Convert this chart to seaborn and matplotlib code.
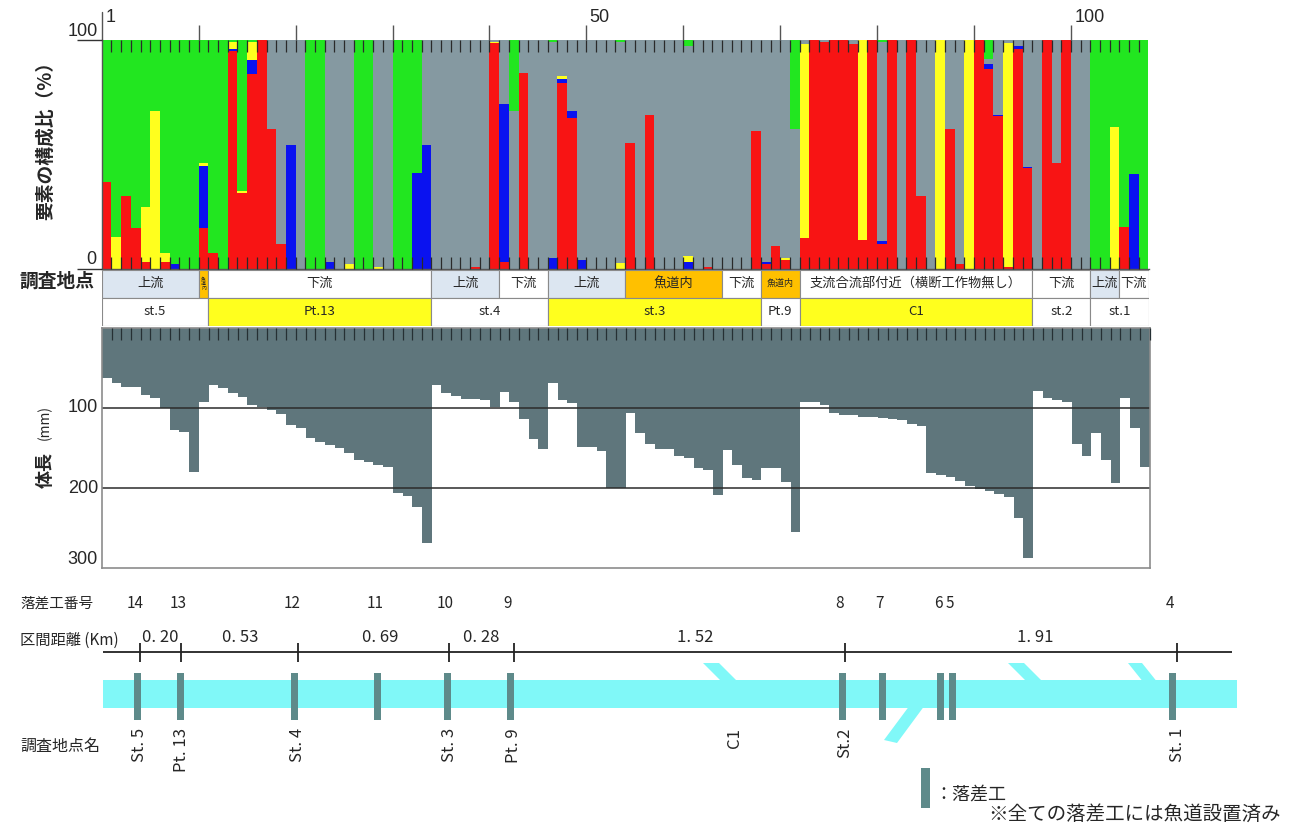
import numpy as np
import pandas as pd
import matplotlib
matplotlib.use("Agg")
import matplotlib.pyplot as plt
import seaborn as sns

# ================= data =================
# composition (%) of each individual, stacked bottom -> top: red, blue, yellow, gray, green
red = [
    38, 0, 32, 18, 3, 0, 3, 0, 0, 0,
    18, 7, 0, 95, 33, 85, 100, 61, 11, 0,
    0, 0, 0, 0, 0, 0, 0, 0, 0, 0,
    0, 0, 0, 0, 0, 0, 0, 0, 1, 0,
    98.5, 3, 0, 85.5, 0, 0, 0, 81, 66, 0,
    0, 0, 0, 0, 55, 0, 67, 0, 0, 0,
    0, 0, 1, 0, 0, 0, 0, 60, 2, 10,
    4, 0, 13.5, 100, 99, 100, 100, 98, 12.5, 100,
    11, 100, 0, 100, 32, 0, 0, 61, 2, 0,
    100, 87, 66.5, 1, 96, 44, 0, 100, 46, 100,
    0, 0, 0, 0, 0, 18.5, 0, 0]
blue = [
    0, 0, 0, 0, 0, 0, 0, 2, 0, 0,
    27, 0, 0, 1, 0, 6, 0, 0, 0, 54,
    0, 0, 0, 3, 0, 0, 0, 0, 0, 0,
    0, 0, 42, 54, 0, 0, 0, 0, 0, 0,
    0, 69, 0, 0, 0, 0, 5, 2, 3, 4,
    0, 0, 0, 0, 0, 0, 0, 0, 0, 0,
    3, 0, 0, 0, 0, 0, 0, 0, 1, 0,
    0, 0, 0, 0, 0, 0, 0, 0, 0, 0,
    1, 0, 0, 0, 0, 0, 0, 0, 0, 0,
    0, 2.5, 0.5, 0, 1, 0.5, 0, 0, 0, 0,
    0, 0, 0, 0, 0, 0, 41.5, 0]
yellow = [
    0, 14, 0, 0, 24, 69, 4, 0, 0, 0,
    1, 0, 0, 3, 1, 8, 0, 0, 0, 0,
    0, 0, 0, 0, 0, 2, 0, 0, 1, 0,
    0, 0, 0, 0, 0, 0, 0, 0, 0, 0,
    0.5, 0, 0, 0, 0, 0, 0, 1, 0, 0,
    0, 0, 0, 2.5, 0, 0, 0, 0, 0, 0,
    2.5, 0, 0, 0, 0, 0, 0, 0, 0, 0,
    1, 0, 84.5, 0, 0, 0, 0, 0, 87.5, 0,
    0, 0, 0, 0, 0, 0, 100, 0, 0, 100,
    0, 0, 0, 97.5, 0, 0, 0, 0, 0, 0,
    0, 0, 0, 0, 62, 0, 0, 0]
gray = [
    0, 0, 0, 0, 0, 0, 0, 0, 0, 0,
    0, 0, 0, 0, 0, 0, 0, 39, 89, 46,
    100, 0, 0, 97, 100, 98, 0, 0, 99, 100,
    0, 0, 0, 46, 100, 100, 100, 100, 99, 100,
    1, 28, 69, 14.5, 100, 100, 94, 16, 31, 96,
    100, 100, 100, 96.5, 45, 100, 33, 100, 100, 100,
    91.5, 100, 99, 100, 100, 100, 100, 40, 97, 90,
    95, 61, 2, 0, 1, 0, 0, 2, 0, 0,
    87, 0, 100, 0, 68, 100, 0, 39, 98, 0,
    0, 2, 33, 1.5, 3, 55.5, 100, 0, 54, 0,
    100, 100, 0, 0, 0, 0, 0, 0]
green = [
    62, 86, 68, 82, 73, 31, 93, 98, 100, 100,
    54, 93, 100, 1, 66, 1, 0, 0, 0, 0,
    0, 100, 100, 0, 0, 0, 100, 100, 0, 0,
    100, 100, 58, 0, 0, 0, 0, 0, 0, 0,
    0, 0, 31, 0, 0, 0, 1, 0, 0, 0,
    0, 0, 0, 1, 0, 0, 0, 0, 0, 0,
    3, 0, 0, 0, 0, 0, 0, 0, 0, 0,
    0, 39, 0, 0, 0, 0, 0, 0, 0, 0,
    1, 0, 0, 0, 0, 0, 0, 0, 0, 0,
    0, 8.5, 0, 0, 0, 0, 0, 0, 0, 0,
    0, 0, 100, 100, 38, 81.5, 58.5, 100]

# body length (mm) of each individual
body_length = [
    62, 69, 73, 73, 83, 87.5, 100, 127, 130, 179,
    92,
    71, 75, 81, 86, 96.5, 98.5, 102, 107.5, 121, 125,
    137.5, 142.5, 146, 150, 156, 164.5, 166.5, 171, 173, 206,
    209, 223, 268,
    71, 81, 85, 89, 89, 90, 99, 80, 92, 113, 138, 151,
    69, 90, 93, 148, 148, 154, 200, 200,
    106, 131, 145, 151, 151, 160, 162.5, 174, 177, 208,
    152, 171, 187.5, 190,
    174, 174, 192.5, 254,
    91.7, 91.7, 95.8, 105.5, 109, 109, 111, 111, 112.5, 113.4, 114.6, 119.6,
    122, 181, 183, 186, 191, 196.6, 201, 203, 207, 211, 237.5, 287.5,
    79, 87.5, 89.6, 91.7, 144.6, 159.6,
    130.4, 164.6, 193.7,
    86.7, 125, 173]

site_labels = ["上流", "魚道内", "下流", "上流", "下流", "上流", "魚道内", "下流", "魚道内",
               "支流合流部付近（横断工作物無し）", "下流", "上流", "下流"]
site_counts = [10, 1, 23, 7, 5, 8, 10, 4, 4, 24, 6, 3, 3]
station_labels = ["st.5", "Pt.13", "st.4", "st.3", "Pt.9", "C1", "st.2", "st.1"]
station_counts = [11, 23, 12, 22, 4, 24, 6, 6]
yellow_stations = ["Pt.13", "st.3", "C1"]

weir_numbers = ["14", "13", "12", "11", "10", "9", "8", "7", "6", "5", "4"]
weir_positions = [137, 180, 294, 377, 447, 510, 842, 882, 940, 952, 1172]
map_station_names = ["St. 5", "Pt. 13", "St. 4", "St. 3", "Pt. 9", "C1", "St.2", "St. 1"]
map_station_positions = [140, 181, 298, 449, 514, 735, 845, 1177]
section_km = ["0. 20", "0. 53", "0. 69", "0. 28", "1. 52", "1. 91"]
section_label_positions = [160, 240, 380, 481, 695, 1035]
tributaries = [
    [(703, 663), (719, 663), (739, 683), (723, 683)],
    [(1008, 663), (1024, 663), (1044, 683), (1028, 683)],
    [(1128, 663), (1142, 663), (1158, 683), (1144, 683)],
    [(884, 740), (897, 743), (925, 705), (910, 705)],
]

# ================= style =================
sns.set_theme(style="white")
plt.rcParams["font.family"] = ["Noto Sans CJK JP", "DejaVu Sans"]

C_RED, C_BLUE, C_YEL, C_GRAY, C_GREEN = "#F81414", "#0A12F0", "#FFFF1E", "#8599A1", "#22E620"
C_LEN = "#5F767C"
C_RIVER = "#80F8F8"
C_WEIR = "#5E8A8A"
C_UP = "#DCE6F1"
C_FISHWAY = "#FFC000"

W, H = 1293, 823
fig = plt.figure(figsize=(W / 100, H / 100), dpi=100)
fig.patch.set_facecolor("white")


def pax(x0, y0, x1, y1):
    return fig.add_axes([x0 / W, 1 - y1 / H, (x1 - x0) / W, (y1 - y0) / H])


def ftext(x, y, s, **kw):
    fig.text(x / W, 1 - y / H, s, **kw)


n = len(red)
pos = np.arange(1, n + 1) - 0.5

# ================= composition chart =================
ax1 = pax(101.8, 39.5, 1148.5, 269)
comp = pd.DataFrame({"red": red, "blue": blue, "yellow": yellow, "gray": gray, "green": green})
cum = comp.cumsum(axis=1)
for col, c in [("green", C_GREEN), ("gray", C_GRAY), ("yellow", C_YEL), ("blue", C_BLUE), ("red", C_RED)]:
    sns.barplot(x=pos, y=cum[col].values, native_scale=True, orient="x", width=1,
                color=c, saturation=1, linewidth=0, errorbar=None, ax=ax1)
ax1.set_axisbelow(False)
ax1.set_xlim(0, n)
ax1.set_ylim(0, 100)
ax1.set_xlabel("")
ax1.set_ylabel("")
ax1.set_xticks(np.arange(10, 101, 10))
ax1.set_xticks(np.arange(1, n), minor=True)
ax1.xaxis.remove_overlapping_locs = False
ax1.tick_params(axis="x", which="major", direction="out", length=11, width=1, color="#555",
                top=True, bottom=False, labeltop=False, labelbottom=False)
ax1.tick_params(axis="x", which="minor", direction="in", length=8.5, width=0.9, color="#2a2a2a",
                top=True, bottom=True)
ax1.set_yticks([0, 100])
ax1.tick_params(axis="y", which="major", direction="out", length=18, width=1, color="#333",
                left=True, labelleft=False)
for s in ["top", "right"]:
    ax1.spines[s].set_visible(False)
for s in ["left", "bottom"]:
    ax1.spines[s].set_color("#555")
    ax1.spines[s].set_linewidth(1)
ax1.plot([0, 0], [1, 1.12], transform=ax1.get_xaxis_transform(), clip_on=False, color="#555", lw=1)
for v, lab in [(0, "1"), (50, "50"), (100, "100")]:
    ax1.text(v + 0.35, 1.094, lab, transform=ax1.get_xaxis_transform(), ha="left", va="center",
             fontsize=13, family="Liberation Sans")
ftext(98, 31, "100", ha="right", va="center", fontsize=13, family="Liberation Sans")
ftext(96, 260, "0", ha="right", va="center", fontsize=13, family="Liberation Sans")
ftext(45, 136, "要素の構成比（%）", rotation=90, ha="center", va="center", fontsize=13.5, weight="bold")

# ================= site / station table =================
axT = pax(101.8, 269.5, 1148.5, 325.5)
axT.set_xlim(0, n)
axT.set_ylim(2, 0)
axT.axis("off")
left = 0
for lab, cnt in zip(site_labels, site_counts):
    col = C_UP if lab == "上流" else (C_FISHWAY if lab == "魚道内" else "white")
    axT.barh(0.5, cnt, left=left, height=1, color=col, edgecolor="#8a8a8a", linewidth=0.8)
    if cnt == 1:
        axT.text(left + cnt / 2, 0.5, "魚\n道\n内", ha="center", va="center", fontsize=3.5, linespacing=0.9)
    elif lab == "魚道内" and cnt < 6:
        axT.text(left + cnt / 2, 0.5, lab, ha="center", va="center", fontsize=6.5)
    else:
        axT.text(left + cnt / 2, 0.5, lab, ha="center", va="center", fontsize=9.5)
    left += cnt
left = 0
for lab, cnt in zip(station_labels, station_counts):
    col = C_YEL if lab in yellow_stations else "white"
    axT.barh(1.5, cnt, left=left, height=1, color=col, edgecolor="#8a8a8a", linewidth=0.8)
    axT.text(left + cnt / 2, 1.5, lab, ha="center", va="center", fontsize=9.5)
    left += cnt
ftext(20, 281, "調査地点", ha="left", va="center", fontsize=13.5, weight="bold")

# ================= body length chart =================
ax2 = pax(101.8, 328.3, 1149.5, 568.3)
sns.barplot(x=pos, y=body_length, native_scale=True, orient="x", width=1, color=C_LEN,
            saturation=1, linewidth=0, errorbar=None, ax=ax2)
ax2.set_axisbelow(False)
ax2.set_xlim(0, n)
ax2.set_ylim(300, 0)
ax2.set_xlabel("")
ax2.set_ylabel("")
ax2.axhline(100, color="#2b2b2b", lw=1.1)
ax2.axhline(200, color="#2b2b2b", lw=1.1)
ax2.set_xticks([])
ax2.set_xticks(np.arange(1, n + 1), minor=True)
ax2.tick_params(axis="x", which="minor", direction="in", length=8.5, width=0.9, color="#263034",
                top=True, bottom=False)
ax2.set_yticks([])
for s in ["left", "bottom", "right", "top"]:
    ax2.spines[s].set_color("#8c8c8c")
    ax2.spines[s].set_linewidth(1.2)
for v, y in [("100", 408), ("200", 488), ("300", 560)]:
    ftext(98, y, v, ha="right", va="center", fontsize=13, family="Liberation Sans")
ftext(45, 470, "体長", rotation=90, ha="center", va="center", fontsize=13, weight="bold")
ftext(45, 423, "(mm)", rotation=90, ha="center", va="center", fontsize=10)

# ================= schematic river map =================
axM = pax(0, 580, W, H)
axM.set_xlim(0, W)
axM.set_ylim(H, 580)
axM.axis("off")
axM.fill_between([103, 1237], 680, 708, color=C_RIVER, lw=0)
for poly in tributaries:
    xs, ys = zip(*poly)
    axM.fill(xs, ys, color=C_RIVER, lw=0)
axM.bar(weir_positions, 47, bottom=673, width=7, color=C_WEIR, linewidth=0)
axM.hlines(652, 103, 1232, color="#222", lw=1.3)
tick_pos = [p for nm, p in zip(map_station_names, map_station_positions) if nm != "C1"]
axM.vlines(tick_pos, 643, 662, color="#222", lw=1.3)
for num, x in zip(weir_numbers, weir_positions):
    axM.text(x - 2, 604, num, ha="center", va="center", fontsize=11)
for lab, x in zip(section_km, section_label_positions):
    axM.text(x, 637, lab, ha="center", va="center", fontsize=12)
for nm, x in zip(map_station_names, map_station_positions):
    axM.text(x, 728, nm, rotation=90, ha="center", va="top", fontsize=12)
axM.text(20, 604, "落差工番号", ha="left", va="center", fontsize=10.5)
axM.text(20, 640, "区間距離 (Km)", ha="left", va="center", fontsize=11)
axM.text(20, 746, "調査地点名", ha="left", va="center", fontsize=11.5)
axM.bar([925], [40], bottom=768, width=9, color=C_WEIR, linewidth=0)
axM.text(934, 795, "：落差工", ha="left", va="center", fontsize=13)
axM.text(988, 814, "※全ての落差工には魚道設置済み", ha="left", va="center", fontsize=14)

fig.savefig("out.png", dpi=100, facecolor="white")
